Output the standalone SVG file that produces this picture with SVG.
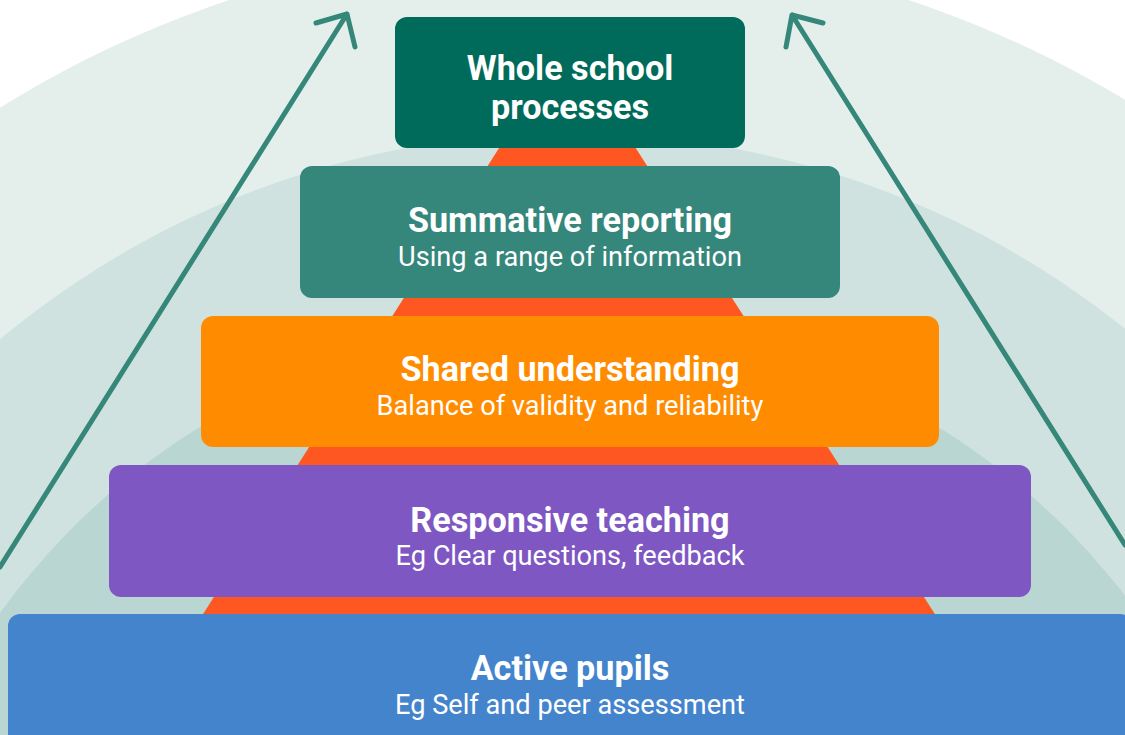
<svg xmlns="http://www.w3.org/2000/svg" width="1125" height="735" viewBox="0 0 1125 735">
<defs>
<style>
.t{font-family:Roboto,"Liberation Sans",sans-serif;font-weight:700;font-size:34.2px;fill:#fff;text-anchor:middle}
.s{font-family:Roboto,"Liberation Sans",sans-serif;font-weight:400;font-size:27.2px;fill:#fff;text-anchor:middle}
.arrow{fill:none;stroke:#358779;stroke-width:5;stroke-linecap:round;stroke-linejoin:round}
</style>
</defs>
<rect width="1125" height="735" fill="#fff"/>
<g id="background">
<circle cx="569" cy="1021" r="1076" fill="#E4EFEC"/>
<circle cx="569" cy="1021" r="888" fill="#CFE2DF"/>
<circle cx="569" cy="1024" r="702" fill="#BAD6D2"/>
<polygon points="567,41 198,622 940,622" fill="#FF5722"/>
</g>
<g id="connectors">
<path class="arrow" d="M0,567 L347,14 M316,23 L347,14 L355,47"/>
<path class="arrow" d="M1125,545 L792,15 M823,23 L792,15 L786,47"/>
</g>
<g id="whole-school">
<rect x="395" y="17" width="350" height="131" rx="12" fill="#006B5A"/>
<text class="t" x="570" y="80">Whole school</text>
<text class="t" x="570" y="119">processes</text>
</g>
<g id="summative">
<rect x="300" y="166" width="540" height="132" rx="12" fill="#35877B"/>
<text class="t" x="570" y="232">Summative reporting</text>
<text class="s" x="570" y="266">Using a range of information</text>
</g>
<g id="shared">
<rect x="201" y="316" width="738" height="131" rx="12" fill="#FF8C00"/>
<text class="t" x="570" y="381">Shared understanding</text>
<text class="s" x="570" y="415">Balance of validity and reliability</text>
</g>
<g id="responsive">
<rect x="109" y="465" width="922" height="132" rx="12" fill="#7E57C2"/>
<text class="t" x="570" y="532">Responsive teaching</text>
<text class="s" x="570" y="565">Eg Clear questions, feedback</text>
</g>
<g id="active">
<rect x="8" y="614" width="1124" height="140" rx="12" fill="#4484CC"/>
<text class="t" x="570" y="680">Active pupils</text>
<text class="s" x="570" y="714">Eg Self and peer assessment</text>
</g>
</svg>
